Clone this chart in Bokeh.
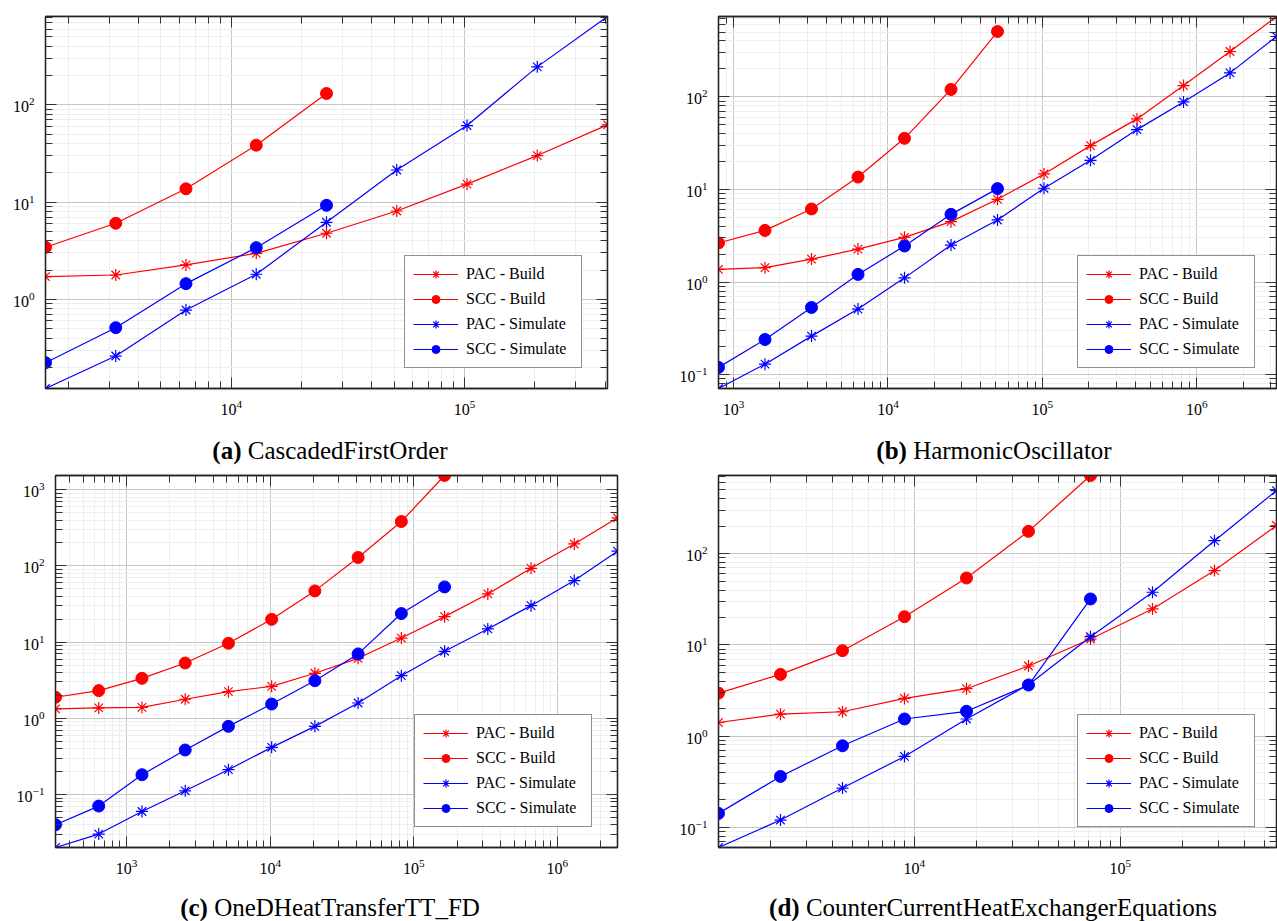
from bokeh.plotting import figure
from bokeh.models import Range1d, LogAxis, FixedTicker, Div, CustomJSTickFormatter
from bokeh.layouts import column, row
from bokeh.embed import file_html
from bokeh.resources import INLINE

FONT = "Liberation Serif"

# ---------------- data ----------------
# (a) CascadedFirstOrder
a_x = [1600, 3200, 6400, 12800, 25600, 51200, 102400, 204800, 409600]
a_pac_build = [1.71, 1.78, 2.26, 2.97, 4.78, 8.1, 15.3, 30.1, 62.3]
a_scc_build = [3.43, 6.06, 13.7, 38.5, 131]
a_pac_sim = [0.121, 0.261, 0.776, 1.81, 6.2, 21.4, 61.3, 246, 811]
a_scc_sim = [0.223, 0.511, 1.45, 3.4, 9.27]

# (b) HarmonicOscillator
b_x = [800, 1600, 3200, 6400, 12800, 25600, 51200, 102400, 204800, 409600,
       819200, 1638400, 3276800]
b_pac_build = [1.37, 1.43, 1.77, 2.27, 3.04, 4.49, 7.82, 14.7, 29.7, 57.7, 132, 308, 735]
b_scc_build = [2.64, 3.61, 6.15, 13.6, 35.6, 120, 506]
b_pac_sim = [0.071, 0.13, 0.261, 0.511, 1.11, 2.51, 4.68, 10.3, 20.6, 44.2, 88, 181, 447]
b_scc_sim = [0.12, 0.24, 0.532, 1.21, 2.45, 5.38, 10.2]

# (c) OneDHeatTransferTT_FD
c_x = [320, 640, 1280, 2560, 5120, 10240, 20480, 40960, 81920, 163840, 327680,
       655360, 1310720, 2621440]
c_pac_build = [1.33, 1.37, 1.39, 1.78, 2.24, 2.63, 3.9, 6.13, 11.3, 21.6, 42.9, 93, 194, 427]
c_scc_build = [1.89, 2.31, 3.35, 5.32, 9.66, 19.9, 47, 129, 382, 1535]
c_pac_sim = [0.0202, 0.0303, 0.060, 0.112, 0.212, 0.416, 0.785, 1.59, 3.63, 7.58,
             14.9, 30.1, 64.2, 156]
c_scc_sim = [0.0402, 0.0706, 0.182, 0.384, 0.785, 1.54, 3.12, 7.0, 23.7, 53]

# (d) CounterCurrentHeatExchangerEquations
d_x = [1120, 2240, 4480, 8960, 17920, 35840, 71680, 143360, 286720, 573440]
d_pac_build = [1.41, 1.74, 1.85, 2.59, 3.31, 5.87, 11.6, 24.8, 65.3, 204]
d_scc_build = [2.96, 4.75, 8.65, 20.4, 54.2, 176, 721]
d_pac_sim = [0.06, 0.12, 0.269, 0.598, 1.54, 3.66, 12.3, 37.8, 139, 493]
d_scc_sim = [0.142, 0.361, 0.783, 1.54, 1.87, 3.63, 31.9]

series_labels = ["PAC - Build", "SCC - Build", "PAC - Simulate", "SCC - Simulate"]
series_colors = ["#ff0000", "#ff0000", "#0000ff", "#0000ff"]
series_markers = ["asterisk", "circle", "asterisk", "circle"]

captions = [("a", "CascadedFirstOrder"), ("b", "HarmonicOscillator"),
            ("c", "OneDHeatTransferTT_FD"), ("d", "CounterCurrentHeatExchangerEquations")]

tick_exponents = [-2, -1, 0, 1, 2, 3, 4, 5, 6, 7]
major_ticks = [10.0 ** e for e in tick_exponents]
minor_ticks = [m * 10.0 ** e for e in tick_exponents for m in range(2, 10)]


def style_axis(ax, labels=True):
    ax.axis_line_color = "#222222"
    ax.axis_line_width = 1.3
    ax.major_tick_in = 11
    ax.major_tick_out = 0
    ax.minor_tick_in = 7
    ax.minor_tick_out = 0
    ax.major_tick_line_color = "#333333"
    ax.minor_tick_line_color = "#333333"
    ax.major_tick_line_width = 1
    ax.minor_tick_line_width = 1
    ax.major_label_text_font = FONT
    ax.major_label_text_font_size = "16px"
    ax.major_label_text_color = "#000000"
    ax.major_label_standoff = 11
    if not labels:
        ax.formatter = CustomJSTickFormatter(code="return ''")
        ax.major_label_text_font_size = "1px"
        ax.major_label_text_alpha = 0
        ax.major_label_standoff = 0


def make_panel(x, ys_list, frame_w, frame_h, left, right, top, bottom):
    all_y = [v for ys in ys_list for v in ys]
    p = figure(x_axis_type="log", y_axis_type="log",
               x_range=Range1d(min(x), max(x)), y_range=Range1d(min(all_y), max(all_y)),
               frame_width=frame_w, frame_height=frame_h,
               min_border_left=left, min_border_right=right,
               min_border_top=top, min_border_bottom=bottom,
               output_backend="svg", toolbar_location=None,
               background_fill_color="white", border_fill_color="white")
    xt = FixedTicker(ticks=major_ticks, minor_ticks=minor_ticks)
    yt = FixedTicker(ticks=major_ticks, minor_ticks=minor_ticks)
    p.add_layout(LogAxis(), "right")
    p.add_layout(LogAxis(), "above")
    for ax in p.below + p.above:
        ax.ticker = xt
    for ax in p.left + p.right:
        ax.ticker = yt
    for ax in p.below + p.left:
        style_axis(ax, True)
    for ax in p.above + p.right:
        style_axis(ax, False)
    p.xgrid.ticker = xt
    p.ygrid.ticker = yt
    for g in (p.xgrid, p.ygrid):
        g.grid_line_color = "#c6c6c6"
        g.grid_line_width = 1
        g.minor_grid_line_color = "#eeeeee"
        g.minor_grid_line_width = 1
    p.outline_line_color = "#222222"
    p.outline_line_width = 1.3

    for ys, lab, col, mk in zip(ys_list, series_labels, series_colors, series_markers):
        xs = x[:len(ys)]
        p.line(xs, ys, line_color=col, line_width=1.2, legend_label=lab)
        if mk == "circle":
            p.scatter(xs, ys, marker="circle", size=12, fill_color=col, line_color=col,
                      legend_label=lab)
        else:
            p.scatter(xs, ys, marker="asterisk", size=12, line_color=col, line_width=1.2,
                      legend_label=lab)

    lg = p.legend[0]
    lg.location = (359, 20)
    lg.margin = 0
    lg.padding = 8
    lg.glyph_width = 45
    lg.glyph_height = 20
    lg.label_height = 20
    lg.label_width = 107
    lg.label_standoff = 8
    lg.spacing = 5
    lg.border_line_color = "#222222"
    lg.border_line_width = 1.3
    lg.background_fill_color = "white"
    lg.background_fill_alpha = 1.0
    lg.label_text_font = FONT
    lg.label_text_font_size = "16px"
    lg.label_text_color = "#000000"
    return p


def caption_div(items, height, pad):
    parts = []
    for (letter, name), cx in items:
        parts.append(
            f'<div style="position:absolute;left:{cx - 280}px;width:560px;top:{pad}px;'
            f'text-align:center;white-space:nowrap;"><b>({letter})</b> {name}</div>')
    html = (f'<div style="position:relative;width:1277px;height:{height}px;overflow:hidden;'
            f"font-family:'Liberation Serif';font-size:25px;line-height:25px;color:#000;\">"
            + "".join(parts) + "</div>")
    return Div(text=html, width=1277, height=height, margin=0)


pa = make_panel(a_x, [a_pac_build, a_scc_build, a_pac_sim, a_scc_sim], 562, 372, 45, 20, 16, 36)
pb = make_panel(b_x, [b_pac_build, b_scc_build, b_pac_sim, b_scc_sim], 558, 372, 91, 1, 16, 36)
pc = make_panel(c_x, [c_pac_build, c_scc_build, c_pac_sim, c_scc_sim], 562, 372, 55, 20, 8, 36)
pd = make_panel(d_x, [d_pac_build, d_scc_build, d_pac_sim, d_scc_sim], 558, 372, 81, 1, 8, 36)

cap1 = caption_div([(captions[0], 330), (captions[1], 994)], 43, 14)
cap2 = caption_div([(captions[2], 330), (captions[3], 993)], 38, 12)

layout = column(row(pa, pb, spacing=0), cap1, row(pc, pd, spacing=0), cap2, spacing=0)

with open("out.html", "w") as f:
    f.write(file_html(layout, INLINE))
